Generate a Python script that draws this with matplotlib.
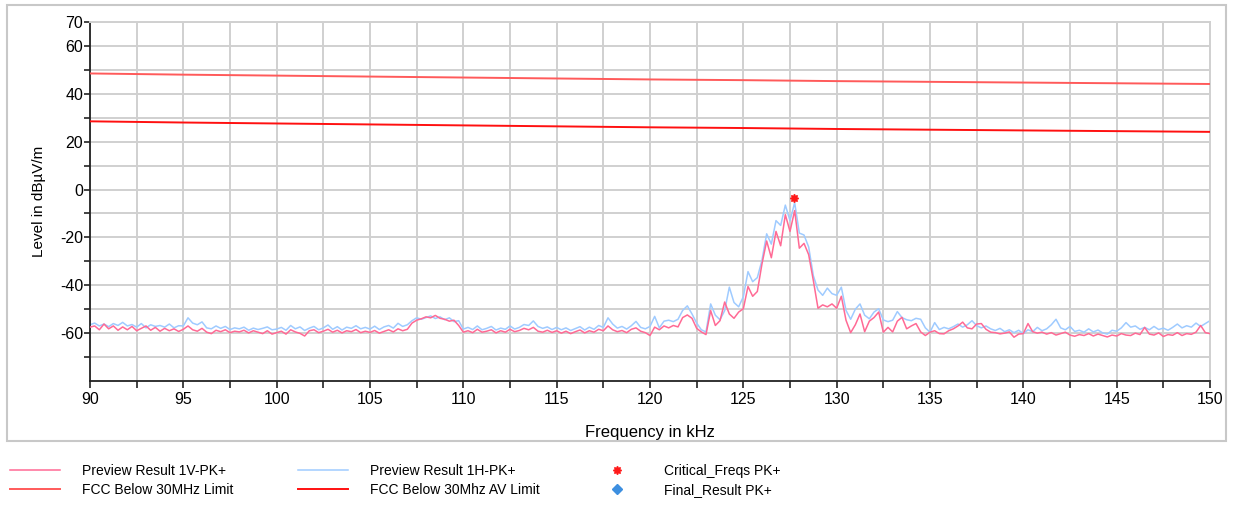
import numpy as np
import matplotlib
matplotlib.use("Agg")
import matplotlib.pyplot as plt
from matplotlib.patches import Rectangle

plt.rcParams['font.family'] = ['Liberation Sans', 'DejaVu Sans']
plt.rcParams['axes.unicode_minus'] = False

# ---- data -------------------------------------------------------------
# scan frequencies (kHz), 0.25 kHz steps from 90 to 150
freq_khz = np.arange(90.0, 150.0001, 0.25)

# Preview Result 1H-PK+ (dBuV/m)
level_1h = [
    -56.5, -55.8, -57.0, -56.2, -57.3, -56.0, -56.8, -55.5,
    -57.0, -56.4, -57.5, -56.0, -57.8, -56.5, -57.2, -56.8,
    -57.5, -56.2, -57.8, -56.9, -57.0, -53.6, -55.8, -56.5,
    -55.3, -57.8, -58.2, -57.0, -58.0, -57.2, -58.5, -57.8,
    -58.2, -57.5, -58.8, -57.9, -58.5, -58.0, -57.4, -58.6,
    -58.3, -57.6, -58.8, -56.8, -58.2, -57.4, -58.9, -57.9,
    -57.2, -58.6, -57.8, -56.6, -58.4, -57.3, -58.7, -57.5,
    -58.0, -56.9, -58.2, -57.6, -58.3, -57.1, -58.5, -57.4,
    -56.8, -57.9, -55.9, -57.2, -56.5, -54.8, -53.6, -54.2,
    -53.5, -52.8, -53.9, -53.2, -54.4, -53.6, -55.2, -54.8,
    -58.3, -57.6, -58.5, -57.0, -58.6, -58.0, -57.2, -58.7,
    -57.9, -58.4, -57.0, -58.3, -57.6, -56.4, -56.8, -54.9,
    -57.2, -58.0, -57.4, -58.5, -57.6, -58.6, -57.8, -58.9,
    -58.1, -57.3, -58.7, -57.5, -58.4, -56.8, -57.6, -53.6,
    -56.2, -57.9, -57.2, -58.3, -56.9, -55.1, -57.6, -58.2,
    -57.2, -53.0, -57.8, -55.0, -54.6, -55.2, -54.2, -50.5,
    -48.6, -52.0, -55.8, -58.6, -59.5, -47.8, -52.5, -54.4,
    -50.6, -40.8, -47.2, -49.0, -44.8, -34.3, -38.5, -36.8,
    -29.5, -18.5, -22.8, -13.0, -15.0, -6.5, -13.0, -5.5,
    -18.2, -19.0, -24.0, -36.0, -42.0, -44.2, -41.2, -43.5,
    -44.2, -40.8, -50.5, -54.2, -50.0, -47.8, -52.5, -54.0,
    -51.2, -49.8, -54.5, -55.2, -54.6, -51.0, -53.5, -54.4,
    -54.8, -53.8, -54.2, -57.8, -59.6, -55.6, -58.5, -57.6,
    -58.2, -57.3, -56.2, -57.5, -56.5, -54.8, -56.9, -57.8,
    -57.0, -58.2, -58.9, -58.0, -59.4, -58.6, -59.8, -58.8,
    -60.2, -58.6, -59.4, -57.6, -59.0, -58.2, -56.5, -54.2,
    -57.8, -58.6, -57.2, -59.3, -58.8, -59.6, -58.2, -59.5,
    -58.7, -59.9, -60.4, -58.8, -59.2, -57.8, -55.6, -57.5,
    -57.0, -58.4, -57.6, -58.6, -57.2, -58.5, -57.9, -58.8,
    -57.6, -56.2, -57.8, -56.9, -57.5, -55.8, -57.2, -56.0,
    -54.8,
]

# Preview Result 1V-PK+ (dBuV/m)
level_1v = [
    -57.5, -57.0, -58.6, -56.2, -58.2, -57.0, -58.8, -57.4,
    -58.6, -57.2, -59.0, -58.0, -57.0, -58.8, -57.6, -59.2,
    -58.0, -59.0, -58.2, -59.3, -58.4, -57.0, -58.6, -59.2,
    -58.0, -59.6, -60.2, -58.8, -59.4, -58.6, -59.8, -59.2,
    -59.5, -58.8, -59.9, -59.0, -59.6, -60.2, -59.0, -60.4,
    -59.8, -59.2, -60.4, -58.6, -59.5, -60.1, -61.2, -59.0,
    -58.6, -59.8, -59.2, -58.4, -59.6, -58.8, -59.9, -59.0,
    -59.4, -58.5, -59.8, -59.2, -59.7, -58.9, -60.0, -59.3,
    -58.6, -59.5, -58.2, -59.0, -58.4, -55.8, -54.6, -54.0,
    -53.2, -53.6, -52.6, -53.8, -54.2, -55.0, -54.6, -56.8,
    -59.6, -59.0, -59.8, -58.4, -59.6, -59.2, -58.6, -59.9,
    -59.0, -59.6, -58.4, -59.4, -58.9, -58.0, -58.6, -57.6,
    -59.2, -59.6, -58.8, -59.7, -59.0, -60.0, -59.2, -60.2,
    -59.4, -58.7, -59.9, -59.0, -59.6, -58.4, -59.0, -57.0,
    -58.6, -59.4, -58.9, -59.8, -58.4, -57.8, -59.2, -59.8,
    -61.0, -57.5, -58.6, -57.0, -57.8, -56.8, -57.4, -53.5,
    -52.4, -53.8, -58.0, -59.5, -60.6, -50.6, -56.8, -54.8,
    -47.0, -52.0, -53.8, -51.2, -49.8, -40.5, -44.6, -42.6,
    -31.0, -21.5, -28.5, -17.5, -23.5, -10.5, -17.5, -8.8,
    -24.5, -22.5, -27.2, -38.0, -49.6, -48.2, -49.0, -47.8,
    -49.6, -44.6, -54.6, -59.8, -56.5, -52.0, -59.4, -55.0,
    -53.5, -51.2, -59.6, -57.6, -59.5, -55.0, -53.4, -58.2,
    -57.0, -56.0, -59.5, -61.0, -59.6, -59.0, -60.2, -60.3,
    -59.0, -58.2, -57.0, -55.4, -57.8, -58.2, -56.2, -56.0,
    -58.4, -59.6, -59.8, -60.3, -60.0, -59.5, -61.7, -60.4,
    -60.2, -56.0, -59.4, -60.0, -59.6, -60.4, -59.8, -60.8,
    -60.2, -59.6, -60.8, -61.3, -60.6, -61.0, -60.2, -61.2,
    -60.4, -61.0, -61.6, -60.8, -61.2, -60.2, -60.8, -61.0,
    -60.0, -60.6, -57.6, -60.4, -60.8, -59.9, -61.4, -60.6,
    -60.9, -59.8, -61.0, -60.2, -60.5, -59.6, -56.8, -59.8,
    -60.2,
]

# FCC limit lines (dBuV/m) at 5 kHz points
limit_freq_khz = [90, 95, 100, 105, 110, 115, 120, 125, 130, 135, 140, 145, 150]
limit_qp = [48.5, 48.0, 47.6, 47.2, 46.8, 46.4, 46.0, 45.7, 45.3, 45.0, 44.7, 44.4, 44.1]
limit_av = [28.5, 28.0, 27.6, 27.2, 26.8, 26.4, 26.0, 25.7, 25.3, 25.0, 24.7, 24.4, 24.1]

# critical frequency found by the peak search
critical_freq_khz = [127.72]
critical_level = [-3.7]

# axis ticks
x_major = [90, 95, 100, 105, 110, 115, 120, 125, 130, 135, 140, 145, 150]
y_major = [70, 60, 40, 20, 0, -20, -40, -60]
y_minor = [50, 30, 10, -10, -30, -50, -70]

# ---- style ------------------------------------------------------------
c_1v = '#ff6a95'
c_1h = '#9fcbff'
c_qp = '#ff5a5a'
c_av = '#ff1010'
c_crit = '#ff1a1a'
c_final = '#3d8fe0'
grid_c = '#d0d0d0'

W, H = 1235, 508
fig = plt.figure(figsize=(W / 100, H / 100), dpi=100)
ax = fig.add_axes([90 / W, 1 - 381 / H, 1120 / W, 359 / H])

h_1v, = ax.plot(freq_khz, level_1v, color=c_1v, lw=1.1, zorder=3)
h_1h, = ax.plot(freq_khz, level_1h, color=c_1h, lw=1.1, zorder=2)
h_qp, = ax.plot(limit_freq_khz, limit_qp, color=c_qp, lw=1.4, zorder=4)
h_av, = ax.plot(limit_freq_khz, limit_av, color=c_av, lw=1.4, zorder=4)
h_crit, = ax.plot(critical_freq_khz, critical_level, ls='none', marker=(8, 1, 0),
                  ms=6, color=c_crit, zorder=5)
h_final, = ax.plot([], [], ls='none', marker='D', ms=5, color=c_final)

ax.set_xlim(90, 150)
ax.set_ylim(-80, 70)
ax.set_xticks(x_major)
ax.set_xticks([v + 2.5 for v in x_major[:-1]], minor=True)
ax.set_yticks(y_major)
ax.set_yticks(y_minor, minor=True)
ax.grid(True, which='both', color=grid_c, lw=1.4)
ax.set_axisbelow(True)
ax.tick_params(which='both', direction='out', length=4, width=1.2, color='#222222',
               labelsize=11.5, pad=1)
ax.tick_params(axis='x', which='both', length=5, pad=3)

for side in ('left', 'bottom'):
    ax.spines[side].set_color('#222222')
    ax.spines[side].set_linewidth(1.3)
for side in ('top', 'right'):
    ax.spines[side].set_color(grid_c)
    ax.spines[side].set_linewidth(1.4)

ax.set_xlabel('Frequency in kHz', fontsize=12, labelpad=13)
ax.set_ylabel('Level in dBµV/m', fontsize=11, labelpad=10)

# outer frame
fig.add_artist(Rectangle((7 / W, 1 - 441 / H), 1219 / W, 436 / H,
                         transform=fig.transFigure, fill=False,
                         edgecolor='#c8c8c8', lw=1.5))

# legend: three columns of two entries each
groups = [
    ([h_1v, h_qp], ['Preview Result 1V-PK+', 'FCC Below 30MHz Limit'], 10),
    ([h_1h, h_av], ['Preview Result 1H-PK+', 'FCC Below 30Mhz AV Limit'], 298),
    ([h_crit, h_final], ['Critical_Freqs PK+', 'Final_Result PK+'], 592),
]
for handles, labels, x0 in groups:
    fig.legend(handles, labels, loc='upper left',
               bbox_to_anchor=(x0 / W, 1 - 464 / H), frameon=False,
               fontsize=10, handlelength=3.6, handletextpad=1.6,
               borderpad=0, borderaxespad=0, labelspacing=0.38)

fig.savefig('out.png', dpi=100)
